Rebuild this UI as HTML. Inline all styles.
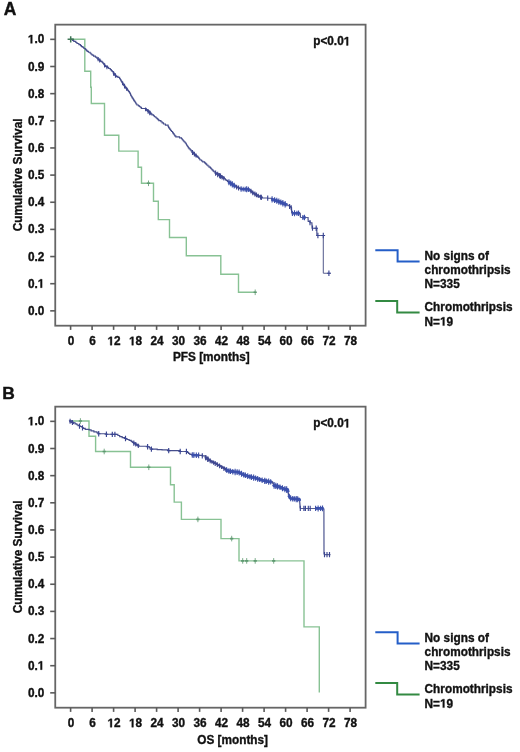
<!DOCTYPE html>
<html><head><meta charset="utf-8"><style>
html,body{margin:0;padding:0;background:#fff;}
svg{display:block;will-change:transform;}
text{font-family:"Liberation Sans", sans-serif;font-weight:bold;font-size:12.2px;fill:#111;stroke:#111;stroke-width:0.36px;}
</style></head><body>
<svg width="520" height="752" viewBox="0 0 520 752">
<rect width="520" height="752" fill="#fff"/>
<rect x="55.25" y="24.65" width="310.35" height="301.05" fill="none" stroke="#666" stroke-width="1.8"/>
<line x1="50.2" y1="39.35" x2="55.25" y2="39.35" stroke="#5a5a5a" stroke-width="1.6"/>
<path transform="translate(27.88,43.35) scale(0.005766,-0.005957)" d="M478,0H759V1409H493L140,1180V959L478,1170Z" fill="#111" stroke="#111" stroke-width="0.36" vector-effect="non-scaling-stroke"/><text transform="translate(34.45,43.35) scale(0.968,1)">.0</text>
<line x1="50.2" y1="66.50" x2="55.25" y2="66.50" stroke="#5a5a5a" stroke-width="1.6"/>
<text transform="translate(44.30,70.50) scale(0.968,1)" text-anchor="end">0.9</text>
<line x1="50.2" y1="93.65" x2="55.25" y2="93.65" stroke="#5a5a5a" stroke-width="1.6"/>
<text transform="translate(44.30,97.65) scale(0.968,1)" text-anchor="end">0.8</text>
<line x1="50.2" y1="120.80" x2="55.25" y2="120.80" stroke="#5a5a5a" stroke-width="1.6"/>
<text transform="translate(44.30,124.80) scale(0.968,1)" text-anchor="end">0.7</text>
<line x1="50.2" y1="147.95" x2="55.25" y2="147.95" stroke="#5a5a5a" stroke-width="1.6"/>
<text transform="translate(44.30,151.95) scale(0.968,1)" text-anchor="end">0.6</text>
<line x1="50.2" y1="175.10" x2="55.25" y2="175.10" stroke="#5a5a5a" stroke-width="1.6"/>
<text transform="translate(44.30,179.10) scale(0.968,1)" text-anchor="end">0.5</text>
<line x1="50.2" y1="202.25" x2="55.25" y2="202.25" stroke="#5a5a5a" stroke-width="1.6"/>
<text transform="translate(44.30,206.25) scale(0.968,1)" text-anchor="end">0.4</text>
<line x1="50.2" y1="229.40" x2="55.25" y2="229.40" stroke="#5a5a5a" stroke-width="1.6"/>
<text transform="translate(44.30,233.40) scale(0.968,1)" text-anchor="end">0.3</text>
<line x1="50.2" y1="256.55" x2="55.25" y2="256.55" stroke="#5a5a5a" stroke-width="1.6"/>
<text transform="translate(44.30,260.55) scale(0.968,1)" text-anchor="end">0.2</text>
<line x1="50.2" y1="283.70" x2="55.25" y2="283.70" stroke="#5a5a5a" stroke-width="1.6"/>
<text transform="translate(27.88,287.70) scale(0.968,1)">0.</text><path transform="translate(37.73,287.70) scale(0.005766,-0.005957)" d="M478,0H759V1409H493L140,1180V959L478,1170Z" fill="#111" stroke="#111" stroke-width="0.36" vector-effect="non-scaling-stroke"/>
<line x1="50.2" y1="310.85" x2="55.25" y2="310.85" stroke="#5a5a5a" stroke-width="1.6"/>
<text transform="translate(44.30,314.85) scale(0.968,1)" text-anchor="end">0.0</text>
<line x1="70.60" y1="325.7" x2="70.60" y2="329.90" stroke="#5a5a5a" stroke-width="1.6"/>
<text transform="translate(71.10,345.20) scale(0.968,1)" text-anchor="middle">0</text>
<line x1="92.10" y1="325.7" x2="92.10" y2="329.90" stroke="#5a5a5a" stroke-width="1.6"/>
<text transform="translate(92.60,345.20) scale(0.968,1)" text-anchor="middle">6</text>
<line x1="113.60" y1="325.7" x2="113.60" y2="329.90" stroke="#5a5a5a" stroke-width="1.6"/>
<path transform="translate(107.53,345.20) scale(0.005766,-0.005957)" d="M478,0H759V1409H493L140,1180V959L478,1170Z" fill="#111" stroke="#111" stroke-width="0.36" vector-effect="non-scaling-stroke"/><text transform="translate(114.10,345.20) scale(0.968,1)">2</text>
<line x1="135.10" y1="325.7" x2="135.10" y2="329.90" stroke="#5a5a5a" stroke-width="1.6"/>
<path transform="translate(129.03,345.20) scale(0.005766,-0.005957)" d="M478,0H759V1409H493L140,1180V959L478,1170Z" fill="#111" stroke="#111" stroke-width="0.36" vector-effect="non-scaling-stroke"/><text transform="translate(135.60,345.20) scale(0.968,1)">8</text>
<line x1="156.60" y1="325.7" x2="156.60" y2="329.90" stroke="#5a5a5a" stroke-width="1.6"/>
<text transform="translate(157.10,345.20) scale(0.968,1)" text-anchor="middle">24</text>
<line x1="178.10" y1="325.7" x2="178.10" y2="329.90" stroke="#5a5a5a" stroke-width="1.6"/>
<text transform="translate(178.60,345.20) scale(0.968,1)" text-anchor="middle">30</text>
<line x1="199.60" y1="325.7" x2="199.60" y2="329.90" stroke="#5a5a5a" stroke-width="1.6"/>
<text transform="translate(200.10,345.20) scale(0.968,1)" text-anchor="middle">36</text>
<line x1="221.10" y1="325.7" x2="221.10" y2="329.90" stroke="#5a5a5a" stroke-width="1.6"/>
<text transform="translate(221.60,345.20) scale(0.968,1)" text-anchor="middle">42</text>
<line x1="242.60" y1="325.7" x2="242.60" y2="329.90" stroke="#5a5a5a" stroke-width="1.6"/>
<text transform="translate(243.10,345.20) scale(0.968,1)" text-anchor="middle">48</text>
<line x1="264.10" y1="325.7" x2="264.10" y2="329.90" stroke="#5a5a5a" stroke-width="1.6"/>
<text transform="translate(264.60,345.20) scale(0.968,1)" text-anchor="middle">54</text>
<line x1="285.60" y1="325.7" x2="285.60" y2="329.90" stroke="#5a5a5a" stroke-width="1.6"/>
<text transform="translate(286.10,345.20) scale(0.968,1)" text-anchor="middle">60</text>
<line x1="307.10" y1="325.7" x2="307.10" y2="329.90" stroke="#5a5a5a" stroke-width="1.6"/>
<text transform="translate(307.60,345.20) scale(0.968,1)" text-anchor="middle">66</text>
<line x1="328.60" y1="325.7" x2="328.60" y2="329.90" stroke="#5a5a5a" stroke-width="1.6"/>
<text transform="translate(329.10,345.20) scale(0.968,1)" text-anchor="middle">72</text>
<line x1="350.10" y1="325.7" x2="350.10" y2="329.90" stroke="#5a5a5a" stroke-width="1.6"/>
<text transform="translate(350.60,345.20) scale(0.968,1)" text-anchor="middle">78</text>
<text transform="translate(211.30,361.00) scale(0.968,1)" text-anchor="middle">PFS [months]</text>
<text transform="translate(22.3,174.90) rotate(-90) scale(0.968,1)" text-anchor="middle">Cumulative Survival</text>
<text transform="translate(313.20,45.40) scale(0.968,1)">p&lt;0.0</text><path transform="translate(343.73,45.40) scale(0.005766,-0.005957)" d="M478,0H759V1409H493L140,1180V959L478,1170Z" fill="#111" stroke="#111" stroke-width="0.36" vector-effect="non-scaling-stroke"/>
<text transform="translate(3.8,14.8) scale(0.955,1)" style="font-size:18.3px;stroke-width:0.4px">A</text>
<path d="M70.6,39.3H84.8V71.3H90.7V87.3H91.3V103.5H104.5V135.2H118.8V151.1H138.1V167.3H141.5V183.3H153.5V201.3H158.3V219.6H169.5V237.5H186.3V255.8H220.8V274.2H238.5V292.3H255.4" fill="none" stroke="#88c294" stroke-width="1.4"/>
<path d="M148.5,180.5V186.10000000000002M255.2,289.5V295.1" stroke="#7aab88" stroke-width="1.0"/>
<path d="M146.9,183.3H150.1M253.6,292.3H256.8" stroke="#5d9870" stroke-width="1.6"/>
<path d="M70.90,39.30H72.46V40.35H73.77V41.40H75.81V42.45H77.01V43.50H78.88V44.55H80.50V45.60H81.46V46.55H82.96V47.50H83.89V48.45H85.30V49.40H86.20V50.36H87.12V51.32H88.41V52.28H90.14V53.24H91.10V54.20H92.13V55.18H93.59V56.15H95.39V57.12H96.80V58.10H98.02V59.20H99.85V60.30H100.70V61.40H102.11V62.38H103.02V63.36H103.81V64.34H104.57V65.32H105.50V66.30H107.46V67.40H108.63V68.50H110.30V69.60H111.33V70.56H112.16V71.51H113.13V72.47H113.73V73.43H114.33V74.39H115.04V75.34H116.10V76.30H117.94V77.40H119.60V78.50H120.22V79.45H120.77V80.40H121.26V81.35H121.97V82.30H122.64V83.25H123.10V84.20H123.77V85.12H124.41V86.04H125.23V86.96H125.98V87.88H126.50V88.80H127.48V89.74H127.97V90.68H128.63V91.62H129.49V92.56H130.00V93.50H130.45V94.42H130.74V95.34H131.26V96.26H131.82V97.18H132.30V98.10H133.08V99.09H133.59V100.07H134.28V101.06H134.92V102.04H135.56V103.03H136.14V104.01H136.90V105.00H138.42V105.88H139.51V106.75H140.78V107.62H141.50V108.50H146.20V109.60H147.36V110.64H148.80V111.68H150.10V112.72H150.96V113.76H151.90V114.80H153.53V115.77H154.42V116.73H155.82V117.70H156.87V118.67H157.87V119.63H158.80V120.60H160.90V121.73H162.12V122.87H163.50V124.00H165.40V125.15H168.10V126.30H168.53V127.34H169.16V128.38H169.83V129.42H170.68V130.46H171.50V131.50H172.56V132.58H173.23V133.66H174.00V134.74H174.73V135.82H175.80V136.90H179.53V137.80H181.50V138.70H182.29V139.70H183.12V140.70H183.95V141.70H185.00V142.70H185.83V143.72H186.46V144.74H186.93V145.77H187.65V146.79H188.35V147.81H189.16V148.83H190.22V149.86H191.11V150.88H191.90V151.90H193.07V152.94H194.29V153.98H194.98V155.02H196.39V156.06H197.70V157.10H198.57V158.07H199.39V159.03H200.00V160.00H201.56V160.97H202.72V161.93H204.60V162.90H205.63V163.94H206.66V164.98H207.87V166.02H209.02V167.06H210.40V168.10H211.24V169.02H212.02V169.94H212.95V170.86H213.84V171.78H215.00V172.70H216.06V173.67H218.27V174.63H220.12V175.60H221.34V176.57H222.71V177.53H224.20V178.50H225.20V179.45H225.99V180.40H227.43V181.35H229.00V182.30H230.84V183.30H232.70V184.30H233.96V185.30H235.25V186.30H236.90V187.30H238.58V188.15H241.20V189.00H248.80V189.40H249.52V190.32H251.09V191.25H252.27V192.18H253.10V193.10H254.88V194.08H255.95V195.06H257.70V196.04H260.08V197.02H262.30V198.00H267.70V198.20H271.50V199.20H275.07V200.20H278.00V201.20H280.53V202.15H282.66V203.10H285.20V204.05H287.00V205.00H288.00V205.75H289.60V206.50H290.59V207.25H291.50V208.00H291.55V209.06H291.59V210.12H291.63V211.18H291.66V212.24H291.70V213.30M300.20,213.30H300.26V214.35H300.30V215.40H300.34V216.45H300.40V217.50M308.00,217.50H308.04V218.50H308.09V219.50H308.16V220.50H308.20V221.50H310.02V222.75H311.90V224.00H311.97V225.05H312.02V226.10H312.06V227.15H312.10V228.20L316.80,228.20H316.81V229.24H316.82V230.29H316.84V231.33H316.85V232.37H316.87V233.41H316.88V234.46H316.90V235.50M323.30,235.50M323.30,273.20M330.90,273.20" fill="none" stroke="#464e8c" stroke-width="1.15"/>
<path d="M291.70,213.30L300.20,213.30M300.40,217.50L308.00,217.50M316.90,235.50L323.30,235.50M323.30,235.50L323.30,273.20M323.30,273.20L330.90,273.20" fill="none" stroke="#5a6090" stroke-width="1.05"/>
<polyline points="97.50,58.69 100.50,61.23" fill="none" stroke="#414b95" stroke-width="1.10" stroke-linejoin="round" stroke-linecap="butt"/>
<path d="M98.10,57.04V61.36M99.69,58.49V62.61" stroke="#3f4790" stroke-width="1.1"/>
<polyline points="104.00,64.77 105.50,66.30 107.00,67.33" fill="none" stroke="#414b95" stroke-width="1.10" stroke-linejoin="round" stroke-linecap="butt"/>
<path d="M104.60,63.23V67.53M106.93,65.35V69.21" stroke="#3f4790" stroke-width="1.1"/>
<polyline points="113.00,72.72 116.10,76.30 117.50,77.18" fill="none" stroke="#414b95" stroke-width="1.30" stroke-linejoin="round" stroke-linecap="butt"/>
<path d="M113.60,71.16V75.66M115.47,73.31V77.83" stroke="#3f4790" stroke-width="1.1"/>
<polyline points="122.00,82.41 123.10,84.20 126.50,88.80 127.50,90.14" fill="none" stroke="#414b95" stroke-width="1.30" stroke-linejoin="round" stroke-linecap="butt"/>
<path d="M122.60,81.41V85.36M124.54,83.79V88.51M126.84,87.44V91.07" stroke="#3f4790" stroke-width="1.1"/>
<polyline points="145.00,109.32 146.20,109.60 151.50,114.44" fill="none" stroke="#414b95" stroke-width="1.50" stroke-linejoin="round" stroke-linecap="butt"/>
<path d="M145.60,107.55V111.37M148.10,108.96V113.69M149.76,110.47V115.22" stroke="#3f4790" stroke-width="1.1"/>
<polyline points="191.90,151.90 197.70,157.10" fill="none" stroke="#414b95" stroke-width="1.90" stroke-linejoin="round" stroke-linecap="butt"/>
<path d="M192.50,149.98V154.90M194.39,151.74V156.51M196.03,153.59V157.61" stroke="#3f4790" stroke-width="1.1"/>
<polyline points="215.00,172.70 224.20,178.50" fill="none" stroke="#414b95" stroke-width="2.10" stroke-linejoin="round" stroke-linecap="butt"/>
<path d="M215.60,170.52V175.63M217.68,171.64V177.14M219.66,172.93V178.35M222.07,174.91V179.40M223.84,175.97V180.58" stroke="#3f4790" stroke-width="1.1"/>
<polyline points="228.30,181.75 229.00,182.30 236.00,186.73" fill="none" stroke="#3d54b2" stroke-width="2.90" stroke-linejoin="round" stroke-linecap="butt"/>
<path d="M228.90,179.31V185.13M230.69,180.57V186.16M232.33,181.27V187.54M234.22,182.78V188.42" stroke="#3b4ea8" stroke-width="1.1"/>
<polyline points="236.00,186.73 236.90,187.30 240.50,188.72" fill="none" stroke="#414b95" stroke-width="1.50" stroke-linejoin="round" stroke-linecap="butt"/>
<path d="M236.60,184.68V189.54M238.56,185.51V190.40" stroke="#3f4790" stroke-width="1.1"/>
<polyline points="240.50,188.72 241.20,189.00 248.80,189.40 250.30,190.69" fill="none" stroke="#3d54b2" stroke-width="2.70" stroke-linejoin="round" stroke-linecap="butt"/>
<path d="M241.10,186.19V191.73M243.18,186.69V191.52M245.16,186.68V191.74M246.66,186.33V192.25M248.35,186.65V192.11" stroke="#3b4ea8" stroke-width="1.1"/>
<polyline points="250.30,190.69 253.10,193.10 262.30,198.00" fill="none" stroke="#414b95" stroke-width="1.90" stroke-linejoin="round" stroke-linecap="butt"/>
<path d="M250.90,188.82V193.60M252.76,190.44V195.17M254.87,191.49V196.59M256.49,192.51V197.30M258.26,193.65V198.04M260.61,194.74V199.45" stroke="#3f4790" stroke-width="1.1"/>
<polyline points="271.50,199.20 278.00,201.20 287.00,205.00" fill="none" stroke="#3d54b2" stroke-width="3.10" stroke-linejoin="round" stroke-linecap="butt"/>
<path d="M272.10,196.25V202.52M274.60,197.24V203.07M276.78,197.87V203.78M278.84,198.47V204.64M280.84,199.43V205.37M282.86,199.99V206.51M285.13,201.00V207.43" stroke="#3b4ea8" stroke-width="1.1"/>
<polyline points="291.80,213.30 300.00,213.30" fill="none" stroke="#3d54b2" stroke-width="2.70" stroke-linejoin="round" stroke-linecap="butt"/>
<path d="M292.40,210.72V215.88M294.52,210.24V216.36M296.94,210.80V215.80M298.57,210.59V216.01" stroke="#3b4ea8" stroke-width="1.1"/>
<polyline points="302.30,217.50 305.80,217.50" fill="none" stroke="#3d54b2" stroke-width="2.50" stroke-linejoin="round" stroke-linecap="butt"/>
<path d="M302.90,215.03V219.97M304.48,214.73V220.27" stroke="#3b4ea8" stroke-width="1.1"/>
<path d="M220.50,173.57V178.77M261.30,194.87V200.07M267.70,195.60V200.80M289.60,203.90V209.10M291.20,205.16V210.36M310.00,220.12V225.32M312.50,225.60V230.80M316.20,225.50V230.90M314.40,228.20H318.00M317.90,232.80V238.20M316.10,235.50H319.70M323.30,232.80V238.20M321.50,235.50H325.10M328.90,270.50V275.90M327.10,273.20H330.70" stroke="#3a4592" stroke-width="1.15"/>
<path d="M67.6,39.3H74M70.7,36.2V42.6" stroke="#3f7656" stroke-width="1.5"/>
<path d="M375.3,250.30H397.6V261.40H419.6" fill="none" stroke="#245ec8" stroke-width="2"/>
<path d="M375.3,301.10H397.2V312.40H419.6" fill="none" stroke="#338a42" stroke-width="2"/>
<text transform="translate(424.60,259.90) scale(0.968,1)">No signs of</text>
<text transform="translate(424.60,274.30) scale(0.968,1)">chromothripsis</text>
<text transform="translate(424.60,288.20) scale(0.968,1)">N=335</text>
<text transform="translate(424.60,311.10) scale(0.968,1)">Chromothripsis</text>
<text transform="translate(424.60,325.60) scale(0.968,1)">N=</text><path transform="translate(440.03,325.60) scale(0.005766,-0.005957)" d="M478,0H759V1409H493L140,1180V959L478,1170Z" fill="#111" stroke="#111" stroke-width="0.36" vector-effect="non-scaling-stroke"/><text transform="translate(446.59,325.60) scale(0.968,1)">9</text>
<rect x="55.25" y="406.65" width="310.35" height="301.05" fill="none" stroke="#666" stroke-width="1.8"/>
<line x1="50.2" y1="421.35" x2="55.25" y2="421.35" stroke="#5a5a5a" stroke-width="1.6"/>
<path transform="translate(27.88,425.35) scale(0.005766,-0.005957)" d="M478,0H759V1409H493L140,1180V959L478,1170Z" fill="#111" stroke="#111" stroke-width="0.36" vector-effect="non-scaling-stroke"/><text transform="translate(34.45,425.35) scale(0.968,1)">.0</text>
<line x1="50.2" y1="448.50" x2="55.25" y2="448.50" stroke="#5a5a5a" stroke-width="1.6"/>
<text transform="translate(44.30,452.50) scale(0.968,1)" text-anchor="end">0.9</text>
<line x1="50.2" y1="475.65" x2="55.25" y2="475.65" stroke="#5a5a5a" stroke-width="1.6"/>
<text transform="translate(44.30,479.65) scale(0.968,1)" text-anchor="end">0.8</text>
<line x1="50.2" y1="502.80" x2="55.25" y2="502.80" stroke="#5a5a5a" stroke-width="1.6"/>
<text transform="translate(44.30,506.80) scale(0.968,1)" text-anchor="end">0.7</text>
<line x1="50.2" y1="529.95" x2="55.25" y2="529.95" stroke="#5a5a5a" stroke-width="1.6"/>
<text transform="translate(44.30,533.95) scale(0.968,1)" text-anchor="end">0.6</text>
<line x1="50.2" y1="557.10" x2="55.25" y2="557.10" stroke="#5a5a5a" stroke-width="1.6"/>
<text transform="translate(44.30,561.10) scale(0.968,1)" text-anchor="end">0.5</text>
<line x1="50.2" y1="584.25" x2="55.25" y2="584.25" stroke="#5a5a5a" stroke-width="1.6"/>
<text transform="translate(44.30,588.25) scale(0.968,1)" text-anchor="end">0.4</text>
<line x1="50.2" y1="611.40" x2="55.25" y2="611.40" stroke="#5a5a5a" stroke-width="1.6"/>
<text transform="translate(44.30,615.40) scale(0.968,1)" text-anchor="end">0.3</text>
<line x1="50.2" y1="638.55" x2="55.25" y2="638.55" stroke="#5a5a5a" stroke-width="1.6"/>
<text transform="translate(44.30,642.55) scale(0.968,1)" text-anchor="end">0.2</text>
<line x1="50.2" y1="665.70" x2="55.25" y2="665.70" stroke="#5a5a5a" stroke-width="1.6"/>
<text transform="translate(27.88,669.70) scale(0.968,1)">0.</text><path transform="translate(37.73,669.70) scale(0.005766,-0.005957)" d="M478,0H759V1409H493L140,1180V959L478,1170Z" fill="#111" stroke="#111" stroke-width="0.36" vector-effect="non-scaling-stroke"/>
<line x1="50.2" y1="692.85" x2="55.25" y2="692.85" stroke="#5a5a5a" stroke-width="1.6"/>
<text transform="translate(44.30,696.85) scale(0.968,1)" text-anchor="end">0.0</text>
<line x1="70.60" y1="707.7" x2="70.60" y2="711.90" stroke="#5a5a5a" stroke-width="1.6"/>
<text transform="translate(71.10,727.20) scale(0.968,1)" text-anchor="middle">0</text>
<line x1="92.10" y1="707.7" x2="92.10" y2="711.90" stroke="#5a5a5a" stroke-width="1.6"/>
<text transform="translate(92.60,727.20) scale(0.968,1)" text-anchor="middle">6</text>
<line x1="113.60" y1="707.7" x2="113.60" y2="711.90" stroke="#5a5a5a" stroke-width="1.6"/>
<path transform="translate(107.53,727.20) scale(0.005766,-0.005957)" d="M478,0H759V1409H493L140,1180V959L478,1170Z" fill="#111" stroke="#111" stroke-width="0.36" vector-effect="non-scaling-stroke"/><text transform="translate(114.10,727.20) scale(0.968,1)">2</text>
<line x1="135.10" y1="707.7" x2="135.10" y2="711.90" stroke="#5a5a5a" stroke-width="1.6"/>
<path transform="translate(129.03,727.20) scale(0.005766,-0.005957)" d="M478,0H759V1409H493L140,1180V959L478,1170Z" fill="#111" stroke="#111" stroke-width="0.36" vector-effect="non-scaling-stroke"/><text transform="translate(135.60,727.20) scale(0.968,1)">8</text>
<line x1="156.60" y1="707.7" x2="156.60" y2="711.90" stroke="#5a5a5a" stroke-width="1.6"/>
<text transform="translate(157.10,727.20) scale(0.968,1)" text-anchor="middle">24</text>
<line x1="178.10" y1="707.7" x2="178.10" y2="711.90" stroke="#5a5a5a" stroke-width="1.6"/>
<text transform="translate(178.60,727.20) scale(0.968,1)" text-anchor="middle">30</text>
<line x1="199.60" y1="707.7" x2="199.60" y2="711.90" stroke="#5a5a5a" stroke-width="1.6"/>
<text transform="translate(200.10,727.20) scale(0.968,1)" text-anchor="middle">36</text>
<line x1="221.10" y1="707.7" x2="221.10" y2="711.90" stroke="#5a5a5a" stroke-width="1.6"/>
<text transform="translate(221.60,727.20) scale(0.968,1)" text-anchor="middle">42</text>
<line x1="242.60" y1="707.7" x2="242.60" y2="711.90" stroke="#5a5a5a" stroke-width="1.6"/>
<text transform="translate(243.10,727.20) scale(0.968,1)" text-anchor="middle">48</text>
<line x1="264.10" y1="707.7" x2="264.10" y2="711.90" stroke="#5a5a5a" stroke-width="1.6"/>
<text transform="translate(264.60,727.20) scale(0.968,1)" text-anchor="middle">54</text>
<line x1="285.60" y1="707.7" x2="285.60" y2="711.90" stroke="#5a5a5a" stroke-width="1.6"/>
<text transform="translate(286.10,727.20) scale(0.968,1)" text-anchor="middle">60</text>
<line x1="307.10" y1="707.7" x2="307.10" y2="711.90" stroke="#5a5a5a" stroke-width="1.6"/>
<text transform="translate(307.60,727.20) scale(0.968,1)" text-anchor="middle">66</text>
<line x1="328.60" y1="707.7" x2="328.60" y2="711.90" stroke="#5a5a5a" stroke-width="1.6"/>
<text transform="translate(329.10,727.20) scale(0.968,1)" text-anchor="middle">72</text>
<line x1="350.10" y1="707.7" x2="350.10" y2="711.90" stroke="#5a5a5a" stroke-width="1.6"/>
<text transform="translate(350.60,727.20) scale(0.968,1)" text-anchor="middle">78</text>
<text transform="translate(197.20,744.40) scale(0.968,1)">OS [months]</text>
<text transform="translate(22.3,556.90) rotate(-90) scale(0.968,1)" text-anchor="middle">Cumulative Survival</text>
<text transform="translate(313.20,427.40) scale(0.968,1)">p&lt;0.0</text><path transform="translate(343.73,427.40) scale(0.005766,-0.005957)" d="M478,0H759V1409H493L140,1180V959L478,1170Z" fill="#111" stroke="#111" stroke-width="0.36" vector-effect="non-scaling-stroke"/>
<text transform="translate(2.3,398.9) scale(1.0,1)" style="font-size:17.4px;stroke-width:0.4px">B</text>
<path d="M70.6,421.0H89V436.3H95.6V451.5H130.5V467.3H170.5V484.8H174.2V502.1H181.4V519.4H221V538.6H239V560.9H304V626.9H319.3V692.6" fill="none" stroke="#88c294" stroke-width="1.4"/>
<path d="M80.4,418.2V423.8M104.2,448.7V454.3M148.8,464.5V470.1M197.9,516.6V522.1999999999999M231.7,535.8000000000001V541.4M242.7,558.1V563.6999999999999M246.7,558.1V563.6999999999999M255.2,558.1V563.6999999999999M273.7,558.1V563.6999999999999" stroke="#7aab88" stroke-width="1.0"/>
<path d="M78.80000000000001,421.0H82.0M102.60000000000001,451.5H105.8M147.20000000000002,467.3H150.4M196.3,519.4H199.5M230.1,538.6H233.29999999999998M241.1,560.9H244.29999999999998M245.1,560.9H248.29999999999998M253.6,560.9H256.8M272.09999999999997,560.9H275.3" stroke="#5d9870" stroke-width="1.6"/>
<path d="M68.90,420.70H71.44V421.73H72.84V422.77H75.10V423.80H76.86V424.70H77.97V425.60H80.00V426.50H82.03V427.47H83.18V428.43H85.20V429.40H89.10V429.90H91.09V430.85H93.90V431.80H96.95V432.75H98.70V433.70H106.40V434.20H115.80V434.40H117.89V435.50H119.70V436.60H122.14V437.55H125.50V438.50H126.84V439.47H129.12V440.43H131.20V441.40H132.32V442.36H133.89V443.32H135.88V444.28H137.72V445.24H138.90V446.20L143.70,446.20H147.60V446.70H149.39V447.90H151.40V449.10H157.20V449.60H162.00V449.80H168.70V450.60H180.20V451.50M186.40,451.50H187.53V452.47H188.50V453.43H189.80V454.40H191.70V454.90H198.90V455.40H202.30V455.90H205.20V457.30H206.97V458.30H208.37V459.30H209.91V460.30H210.80V461.30H212.15V462.23H214.54V463.17H216.50V464.10H217.72V465.23H220.24V466.37H222.30V467.50H224.55V468.63H225.77V469.77H228.10V470.90H233.80V471.80H238.70V472.30H241.22V473.50H243.50V474.70H245.99V475.65H249.20V476.60H252.74V477.40H255.80V478.20H259.01V479.15H261.50V480.10H267.30V481.50H272.10V482.00H272.64V483.13H273.28V484.27H274.00V485.40H278.80V486.80H281.70V487.80H283.70V488.80H287.50V489.70H287.70V490.76H287.94V491.82H288.11V492.88H288.33V493.94H288.50V495.00H289.26V496.13H289.92V497.27H290.40V498.40H299.50V499.50H299.60V500.49H299.65V501.48H299.74V502.47H299.81V503.46H299.88V504.44H299.98V505.43H300.04V506.42H300.12V507.41H300.20V508.40M323.90,508.40H323.90V509.40H323.91V510.41H323.91V511.41H323.91V512.42H323.91V513.42H323.92V514.43H323.92V515.43H323.92V516.43H323.92V517.44H323.92V518.44H323.93V519.45H323.93V520.45H323.93V521.46H323.93V522.46H323.93V523.47H323.94V524.47H323.94V525.47H323.94V526.48H323.94V527.48H323.95V528.49H323.95V529.49H323.95V530.50H323.95V531.50H323.95V532.50H323.96V533.51H323.96V534.51H323.96V535.52H323.96V536.52H323.97V537.53H323.97V538.53H323.97V539.53H323.97V540.54H323.97V541.54H323.98V542.55H323.98V543.55H323.98V544.56H323.98V545.56H323.99V546.57H323.99V547.57H323.99V548.57H323.99V549.58H323.99V550.58H323.99V551.59H324.00V552.59H324.00V553.60H324.00V554.60M330.50,554.60" fill="none" stroke="#464e8c" stroke-width="1.15"/>
<path d="M180.20,451.50L186.40,451.50M300.20,508.40L323.90,508.40M324.00,554.60L330.50,554.60" fill="none" stroke="#5a6090" stroke-width="1.05"/>
<polyline points="69.50,421.00 74.20,423.35" fill="none" stroke="#414b95" stroke-width="2.10" stroke-linejoin="round" stroke-linecap="butt"/>
<path d="M70.10,418.83V423.77M72.43,419.90V425.02" stroke="#3f4790" stroke-width="1.1"/>
<polyline points="133.20,442.65 138.90,446.20" fill="none" stroke="#414b95" stroke-width="1.90" stroke-linejoin="round" stroke-linecap="butt"/>
<path d="M133.80,440.41V445.64M135.73,441.99V446.45M138.31,443.73V447.94" stroke="#3f4790" stroke-width="1.1"/>
<polyline points="191.70,454.90 198.90,455.40" fill="none" stroke="#3d54b2" stroke-width="2.50" stroke-linejoin="round" stroke-linecap="butt"/>
<path d="M192.30,452.19V457.69M193.85,452.16V457.93M196.33,452.48V457.96M198.64,452.51V458.25" stroke="#3b4ea8" stroke-width="1.1"/>
<polyline points="205.20,457.30 209.50,460.37" fill="none" stroke="#414b95" stroke-width="2.30" stroke-linejoin="round" stroke-linecap="butt"/>
<path d="M205.80,455.16V460.30M207.85,456.41V461.98" stroke="#3f4790" stroke-width="1.1"/>
<polyline points="205.20,457.30 210.80,461.30 216.50,464.10 222.30,467.50 226.00,469.67" fill="none" stroke="#414b95" stroke-width="1.70" stroke-linejoin="round" stroke-linecap="butt"/>
<path d="M205.80,455.25V460.21M207.94,456.73V461.78M210.19,458.48V463.25M211.95,459.94V463.79M213.59,460.52V464.82M215.21,460.98V465.95M217.32,462.24V466.92M219.51,463.49V468.24M221.55,465.16V468.96M223.93,466.03V470.88M225.98,467.38V471.93" stroke="#3f4790" stroke-width="1.1"/>
<polyline points="226.00,469.67 228.10,470.90 233.80,471.80 238.70,472.30 243.50,474.70 249.20,476.60 255.00,478.01" fill="none" stroke="#3d54b2" stroke-width="3.10" stroke-linejoin="round" stroke-linecap="butt"/>
<path d="M226.60,467.37V472.67M228.91,468.25V473.80M230.49,468.49V474.06M232.79,468.90V474.38M235.11,468.65V475.22M237.15,469.27V475.01M239.18,469.46V475.62M241.52,470.68V476.74M243.73,472.12V477.43M245.39,472.55V478.11M247.71,473.29V478.92M249.83,474.14V479.36M251.40,474.35V479.92M253.64,474.59V480.76" stroke="#3b4ea8" stroke-width="1.1"/>
<polyline points="255.00,478.01 255.80,478.20 261.50,480.10 267.30,481.50 272.00,481.99" fill="none" stroke="#3d54b2" stroke-width="2.90" stroke-linejoin="round" stroke-linecap="butt"/>
<path d="M255.60,475.45V480.86M257.67,476.00V481.65M259.68,476.91V482.08M262.16,477.62V482.90M264.74,477.73V484.04M266.26,478.43V484.07M268.66,478.46V484.82M270.66,479.16V484.54" stroke="#3b4ea8" stroke-width="1.1"/>
<polyline points="273.50,484.51 274.00,485.40 278.80,486.80 283.70,488.80 287.50,489.70 288.00,492.35" fill="none" stroke="#3d54b2" stroke-width="3.30" stroke-linejoin="round" stroke-linecap="butt"/>
<path d="M274.10,482.07V488.79M275.83,482.83V489.04M277.49,483.35V489.48M280.04,484.51V490.10M282.44,485.23V491.34M284.91,485.90V492.28M286.67,486.17V492.83" stroke="#3b4ea8" stroke-width="1.1"/>
<polyline points="288.60,495.18 290.40,498.40 299.50,499.50 299.60,500.77" fill="none" stroke="#3d54b2" stroke-width="2.90" stroke-linejoin="round" stroke-linecap="butt"/>
<path d="M289.20,493.74V498.77M290.70,495.59V501.28M292.70,495.97V501.39M294.35,496.14V501.62M296.20,496.01V502.19M297.70,496.26V502.31" stroke="#3b4ea8" stroke-width="1.1"/>
<polyline points="315.00,508.40 323.70,508.40" fill="none" stroke="#3d54b2" stroke-width="2.90" stroke-linejoin="round" stroke-linecap="butt"/>
<path d="M315.60,505.82V510.98M318.12,505.40V511.40M320.61,505.70V511.10M322.52,505.62V511.18" stroke="#3b4ea8" stroke-width="1.1"/>
<path d="M79.50,423.62V428.82M82.50,425.29V430.49M202.30,453.30V458.50M300.30,505.80V511.00M303.90,505.80V511.00M305.40,505.80V511.00M308.30,505.80V511.00M310.20,505.80V511.00M324.50,552.00V557.20M327.00,552.00V557.20M329.50,552.00V557.20M98.70,431.00V436.40M96.90,433.70H100.50M106.40,431.50V436.90M104.60,434.20H108.20M112.30,431.63V437.03M110.50,434.33H114.10M114.90,431.68V437.08M113.10,434.38H116.70M125.50,435.80V441.20M123.70,438.50H127.30M147.60,444.00V449.40M145.80,446.70H149.40M151.40,446.40V451.80M149.60,449.10H153.20M168.70,447.90V453.30M166.90,450.60H170.50M180.20,448.80V454.20M178.40,451.50H182.00M186.40,448.80V454.20M184.60,451.50H188.20" stroke="#3a4592" stroke-width="1.15"/>
<path d="M375.3,632.30H397.6V643.40H419.6" fill="none" stroke="#245ec8" stroke-width="2"/>
<path d="M375.3,683.10H397.2V694.40H419.6" fill="none" stroke="#338a42" stroke-width="2"/>
<text transform="translate(424.60,641.90) scale(0.968,1)">No signs of</text>
<text transform="translate(424.60,656.30) scale(0.968,1)">chromothripsis</text>
<text transform="translate(424.60,670.20) scale(0.968,1)">N=335</text>
<text transform="translate(424.60,693.10) scale(0.968,1)">Chromothripsis</text>
<text transform="translate(424.60,707.60) scale(0.968,1)">N=</text><path transform="translate(440.03,707.60) scale(0.005766,-0.005957)" d="M478,0H759V1409H493L140,1180V959L478,1170Z" fill="#111" stroke="#111" stroke-width="0.36" vector-effect="non-scaling-stroke"/><text transform="translate(446.59,707.60) scale(0.968,1)">9</text>
</svg>
</body></html>
